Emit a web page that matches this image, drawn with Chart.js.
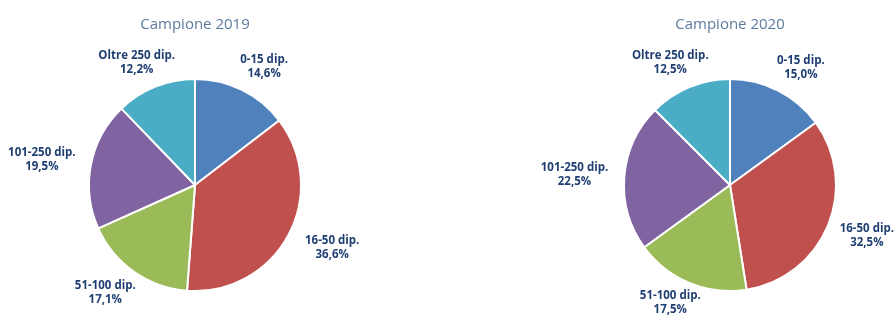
<!DOCTYPE html>
<html>
<head>
<meta charset="utf-8">
<script src="https://cdn.jsdelivr.net/npm/chart.js@4/dist/chart.umd.min.js"></script>
<style>
  html, body { margin: 0; padding: 0; background: #fff; }
  #wrap { position: relative; width: 895px; height: 316px; overflow: hidden; }
  .box { position: absolute; top: 0; height: 316px; }
  #box2019 { left: 0; width: 447px; }
  #box2020 { left: 447px; width: 448px; }
</style>
</head>
<body>
<div id="wrap">
  <div class="box" id="box2019"><canvas id="pie2019"></canvas></div>
  <div class="box" id="box2020"><canvas id="pie2020"></canvas></div>
</div>
<script>
// ---- data ----
const categories = ['0-15 dip.', '16-50 dip.', '51-100 dip.', '101-250 dip.', 'Oltre 250 dip.'];
const values2019 = [14.6, 36.6, 17.1, 19.5, 12.2];
const values2020 = [15.0, 32.5, 17.5, 22.5, 12.5];
const titles = ['Campione 2019', 'Campione 2020'];
const sliceColors = ['#4f81bd', '#c0504d', '#9bbb59', '#8064a2', '#4bacc6'];

const fmtPct = (v) => v.toFixed(1).replace('.', ',') + '%';

// labels outside each slice, two lines: category + value
const outsideLabels = {
  id: 'outsideLabels',
  afterDatasetsDraw(chart) {
    const ctx = chart.ctx;
    const meta = chart.getDatasetMeta(0);
    const ds = chart.data.datasets[0];
    ctx.save();
    ctx.fillStyle = '#1f3f73';
    ctx.font = 'bold 11.5px "Open Sans", sans-serif';
    ctx.textAlign = 'center';
    ctx.textBaseline = 'middle';
    meta.data.forEach((arc, i) => {
      const p = arc.getProps(['x', 'y', 'startAngle', 'endAngle', 'outerRadius'], true);
      const mid = (p.startAngle + p.endAngle) / 2;
      let cx = p.x + Math.cos(mid) * (p.outerRadius + 50);
      let cy = p.y + Math.sin(mid) * (p.outerRadius + 26);
      // keep the label inside the canvas
      const half = ctx.measureText(chart.data.labels[i]).width / 2;
      cx = Math.min(Math.max(cx, half + 1), chart.width - half - 1);
      cy = Math.min(cy, chart.height - 13);
      ctx.fillText(chart.data.labels[i], cx, cy - 7);
      ctx.fillText(fmtPct(ds.data[i]), cx, cy + 7);
    });
    ctx.restore();
  }
};

function makePie(id, title, values, padLeft, padRight) {
  return new Chart(document.getElementById(id), {
    type: 'pie',
    data: {
      labels: categories,
      datasets: [{
        data: values,
        backgroundColor: sliceColors,
        borderColor: '#ffffff',
        borderWidth: 2,
      }],
    },
    plugins: [outsideLabels],
    options: {
      responsive: true,
      maintainAspectRatio: false,
      animation: false,
      layout: { padding: { left: padLeft, right: padRight, top: 0, bottom: 24 } },
      plugins: {
        legend: { display: false },
        tooltip: { enabled: false },
        title: {
          display: true,
          text: title,
          color: '#5b7a9c',
          font: { family: '"Open Sans", sans-serif', size: 15, weight: 'normal' },
          padding: { top: 16, bottom: 44 },
        },
      },
    },
  });
}

makePie('pie2019', titles[0], values2019, 0, 57);
makePie('pie2020', titles[1], values2020, 118, 0);
</script>
</body>
</html>
